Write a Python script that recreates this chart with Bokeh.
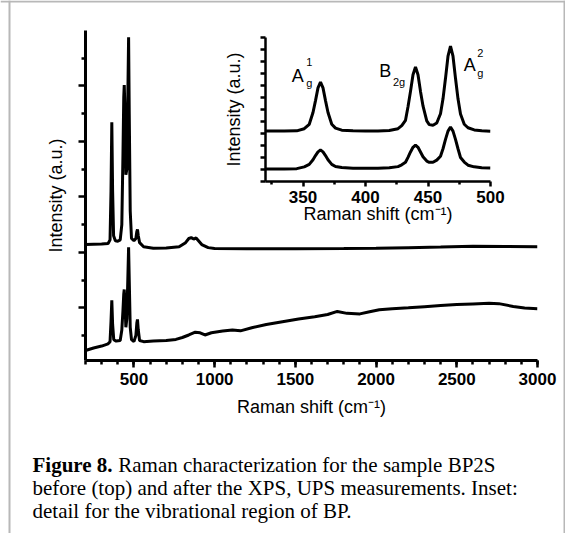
from bokeh.plotting import figure
from bokeh.models import Range1d, FixedTicker, Label, GridBox, Span
from bokeh.embed import file_html
from bokeh.resources import INLINE

# ---------------- data ----------------
# main panel: full Raman spectra (top = before, bottom = after XPS/UPS)
main_top_x = [200, 250, 300, 340, 352, 358, 363, 368, 374, 385, 400, 415, 425, 432, 437, 440,
              444, 450, 456, 462, 467, 471, 477, 485, 500, 512, 518, 522, 527, 535, 560, 620,
              700, 780, 820, 840, 855, 870, 885, 900, 920, 960, 1000, 1200, 1500, 1800, 2000,
              2200, 2400, 2600, 2800, 3000]
main_top_y = [4.28, 4.29, 4.30, 4.32, 4.45, 6.2, 8.69, 6.2, 4.6, 4.42, 4.40, 4.45, 5.0, 7.5, 9.6,
              10.03, 9.2, 6.8, 7.0, 9.5, 11.76, 9.0, 5.5, 4.5, 4.42, 4.5, 4.75, 4.83, 4.6, 4.35,
              4.2, 4.15, 4.16, 4.2, 4.35, 4.5, 4.53, 4.48, 4.52, 4.42, 4.28, 4.17, 4.14, 4.13,
              4.13, 4.14, 4.15, 4.17, 4.19, 4.22, 4.21, 4.2]

main_bot_x = [200, 250, 300, 340, 352, 358, 363, 368, 375, 390, 415, 425, 432, 437, 440, 444,
              450, 456, 462, 467, 471, 477, 485, 500, 512, 518, 522, 527, 535, 560, 620, 700,
              760, 800, 840, 880, 910, 940, 980, 1050, 1110, 1160, 1230, 1320, 1420, 1520, 1620,
              1700, 1760, 1820, 1900, 1960, 2020, 2100, 2200, 2300, 2400, 2500, 2600, 2700, 2760,
              2850, 2920, 3000]
main_bot_y = [0.46, 0.55, 0.62, 0.70, 0.78, 1.5, 2.27, 1.4, 0.85, 0.8, 0.82, 1.2, 1.9, 2.5, 2.66,
              2.2, 1.3, 1.6, 3.0, 4.18, 3.0, 1.3, 0.85, 0.78, 1.0, 1.45, 1.58, 1.2, 0.82, 0.78,
              0.80, 0.82, 0.86, 0.93, 1.02, 1.12, 1.1, 1.02, 1.1, 1.16, 1.2, 1.17, 1.28, 1.4, 1.5,
              1.6, 1.68, 1.76, 1.87, 1.8, 1.78, 1.86, 1.93, 1.97, 2.0, 2.04, 2.08, 2.12, 2.14,
              2.16, 2.15, 2.05, 1.99, 1.97]

main_x_major = [500, 1000, 1500, 2000, 2500, 3000]
main_x_minor = list(range(200, 3001, 100))
main_y_major = [2, 4, 6, 8, 10]
main_y_minor = [1, 3, 5, 7, 9, 11]

# inset: vibrational region of BP
ins_x = [320, 335, 345, 351, 355, 358, 360, 362, 364, 366, 368, 370, 373, 376, 381, 390, 400,
         410, 419, 426, 429, 432, 434, 436, 438, 440, 442, 444, 446, 449, 451, 454, 457, 460,
         462, 464, 466, 468, 470, 472, 474, 476, 479, 482, 487, 493, 500]
ins_top = [4.2, 4.2, 4.22, 4.4, 4.77, 5.75, 6.74, 7.8, 8.29, 7.8, 6.74, 5.75, 4.77, 4.45, 4.28,
           4.22, 4.2, 4.21, 4.25, 4.4, 4.65, 5.1, 6.23, 7.51, 8.9, 9.54, 8.9, 7.51, 6.3, 5.05,
           4.74, 4.68, 4.87, 5.65, 6.89, 8.6, 10.44, 11.29, 10.44, 8.6, 6.89, 5.62, 4.77, 4.48,
           4.3, 4.22, 4.18]
ins_bot = [1.04, 1.05, 1.07, 1.22, 1.43, 1.81, 2.16, 2.47, 2.62, 2.47, 2.16, 1.81, 1.43, 1.25,
           1.16, 1.11, 1.1, 1.1, 1.14, 1.24, 1.39, 1.6, 2.01, 2.46, 2.85, 3.04, 2.85, 2.46, 2.06,
           1.7, 1.6, 1.6, 1.78, 2.1, 2.73, 3.51, 4.2, 4.54, 4.2, 3.51, 2.73, 2.0, 1.62, 1.36,
           1.22, 1.15, 1.12]

ins_x_major = [350, 400, 450, 500]
ins_x_minor = [325, 375, 425, 475]
ins_y_ticks = list(range(0, 13))

caption_bold = "Figure 8."
caption_lines = ["Raman characterization for the sample BP2S",
                 "before (top) and after the XPS, UPS measurements. Inset:",
                 "detail for the vibrational region of BP."]

# ---------------- layout constants ----------------
W, H = 565, 533
SANS = "Liberation Sans"
SERIF = "Liberation Serif"

# main frame (canvas px)
ML, MR, MT, MB = 85, 537, 30, 360
# inset frame (canvas px)
IL, IR, IT, IB = 265, 490, 37, 181


def style_axis(ax, tick_out, minor_out, lw=3):
    ax.axis_line_width = lw
    ax.axis_line_color = "black"
    ax.major_tick_line_width = 2.5
    ax.minor_tick_line_width = 2.5
    ax.major_tick_in = 0
    ax.minor_tick_in = 0
    ax.major_tick_out = tick_out
    ax.minor_tick_out = minor_out
    ax.major_label_text_font = SANS
    ax.major_label_text_font_style = "bold"
    ax.major_label_text_color = "black"
    ax.axis_label_text_font = SANS
    ax.axis_label_text_font_style = "normal"
    ax.axis_label_text_color = "black"


def blank_fig(x_range, y_range, l, r, t, b, **kw):
    f = figure(width=W, height=H, x_range=x_range, y_range=y_range,
               output_backend="svg", toolbar_location=None,
               min_border_left=l, min_border_right=r, min_border_top=t,
               min_border_bottom=b, frame_align=False, **kw)
    f.background_fill_color = None
    f.border_fill_color = None
    f.outline_line_color = None
    f.grid.visible = False
    return f


# ---------------- background page: box and caption ----------------
c = blank_fig(Range1d(0, W), Range1d(H, 0), 0, 0, 0, 0,
              x_axis_location=None, y_axis_location=None)
box_col = "#b8b8b8"
c.add_layout(Span(location=9, dimension="height", line_color=box_col, line_width=2))
c.add_layout(Span(location=1, dimension="width", line_color=box_col, line_width=2))
c.add_layout(Span(location=W - 1, dimension="height", line_color=box_col, line_width=2))

cap_size = 21
cap_left = 32
cap_base = [464, 487, 510]
bold_w = 3.833 * cap_size + 0.25 * cap_size
c.add_layout(Label(x=cap_left, y=cap_base[0], text=caption_bold,
                   text_font=SERIF, text_font_style="bold", text_font_size=f"{cap_size}px",
                   text_color="black", text_baseline="alphabetic", text_align="left"))
c.add_layout(Label(x=cap_left + bold_w, y=cap_base[0], text=caption_lines[0],
                   text_font=SERIF, text_font_size=f"{cap_size}px",
                   text_color="black", text_baseline="alphabetic", text_align="left"))
for i in (1, 2):
    c.add_layout(Label(x=cap_left, y=cap_base[i], text=caption_lines[i],
                       text_font=SERIF, text_font_size=f"{cap_size}px",
                       text_color="black", text_baseline="alphabetic", text_align="left"))

# ---------------- main figure ----------------
p = blank_fig(Range1d(200, 3000), Range1d(0.1, 12.0), ML, W - MR, MT, H - MB)

p.line(main_top_x, main_top_y, line_width=3, color="black")
p.line(main_bot_x, main_bot_y, line_width=3, color="black")

xa = p.xaxis[0]
xa.ticker = FixedTicker(ticks=main_x_major, minor_ticks=main_x_minor)
style_axis(xa, 7, 4)
xa.major_label_text_font_size = "17px"
xa.major_label_standoff = 5
xa.axis_label = "Raman shift (cm\u207b\u00b9)"
xa.axis_label_text_font_size = "18px"
xa.axis_label_standoff = 9

# long ticks at even steps, short ticks at odd steps; the tick values are not printed
ya = p.yaxis[0]
ya.ticker = FixedTicker(ticks=main_y_major, minor_ticks=main_y_minor)
style_axis(ya, 7, 4)
ya.major_label_text_color = None
ya.major_label_text_font_size = "6px"
ya.major_label_standoff = 0
ya.axis_label = "Intensity (a.u.)"
ya.axis_label_text_font_size = "18px"
ya.axis_label_standoff = 13

# ---------------- inset figure ----------------
q = blank_fig(Range1d(320, 500), Range1d(0, 12), IL, W - IR, IT, H - IB)

q.line(ins_x, ins_top, line_width=3, color="black")
q.line(ins_x, ins_bot, line_width=3, color="black")

qx = q.xaxis[0]
qx.ticker = FixedTicker(ticks=ins_x_major, minor_ticks=ins_x_minor)
style_axis(qx, 5, 3, lw=2.5)
qx.major_label_text_font_size = "17px"
qx.major_label_standoff = 4
qx.axis_label = "Raman shift (cm\u207b\u00b9)"
qx.axis_label_text_font_size = "18px"
qx.axis_label_standoff = -2

qy = q.yaxis[0]
qy.ticker = FixedTicker(ticks=[], minor_ticks=ins_y_ticks)
style_axis(qy, 5, 5, lw=2.5)
qy.major_label_standoff = 0
qy.axis_label = "Intensity (a.u.)"
qy.axis_label_text_font_size = "18px"
qy.axis_label_standoff = 17


def peak_label(x, y, text, size):
    q.add_layout(Label(x=x, y=y, text=text, text_font=SANS, text_font_size=size,
                       text_color="black", text_baseline="alphabetic", text_align="left"))


peak_label(340.9, 8.83, "A", "18px")
peak_label(352.6, 9.92, "1", "11px")
peak_label(352.6, 8.25, "g", "11px")
peak_label(410.9, 9.17, "B", "18px")
peak_label(422.0, 8.33, "2g", "11px")
peak_label(478.5, 9.67, "A", "18px")
peak_label(489.4, 10.75, "2", "11px")
peak_label(489.4, 9.04, "g", "11px")

layout = GridBox(children=[(c, 0, 0), (p, 0, 0), (q, 0, 0)], spacing=0)

open("out.html", "w").write(file_html(layout, INLINE))
